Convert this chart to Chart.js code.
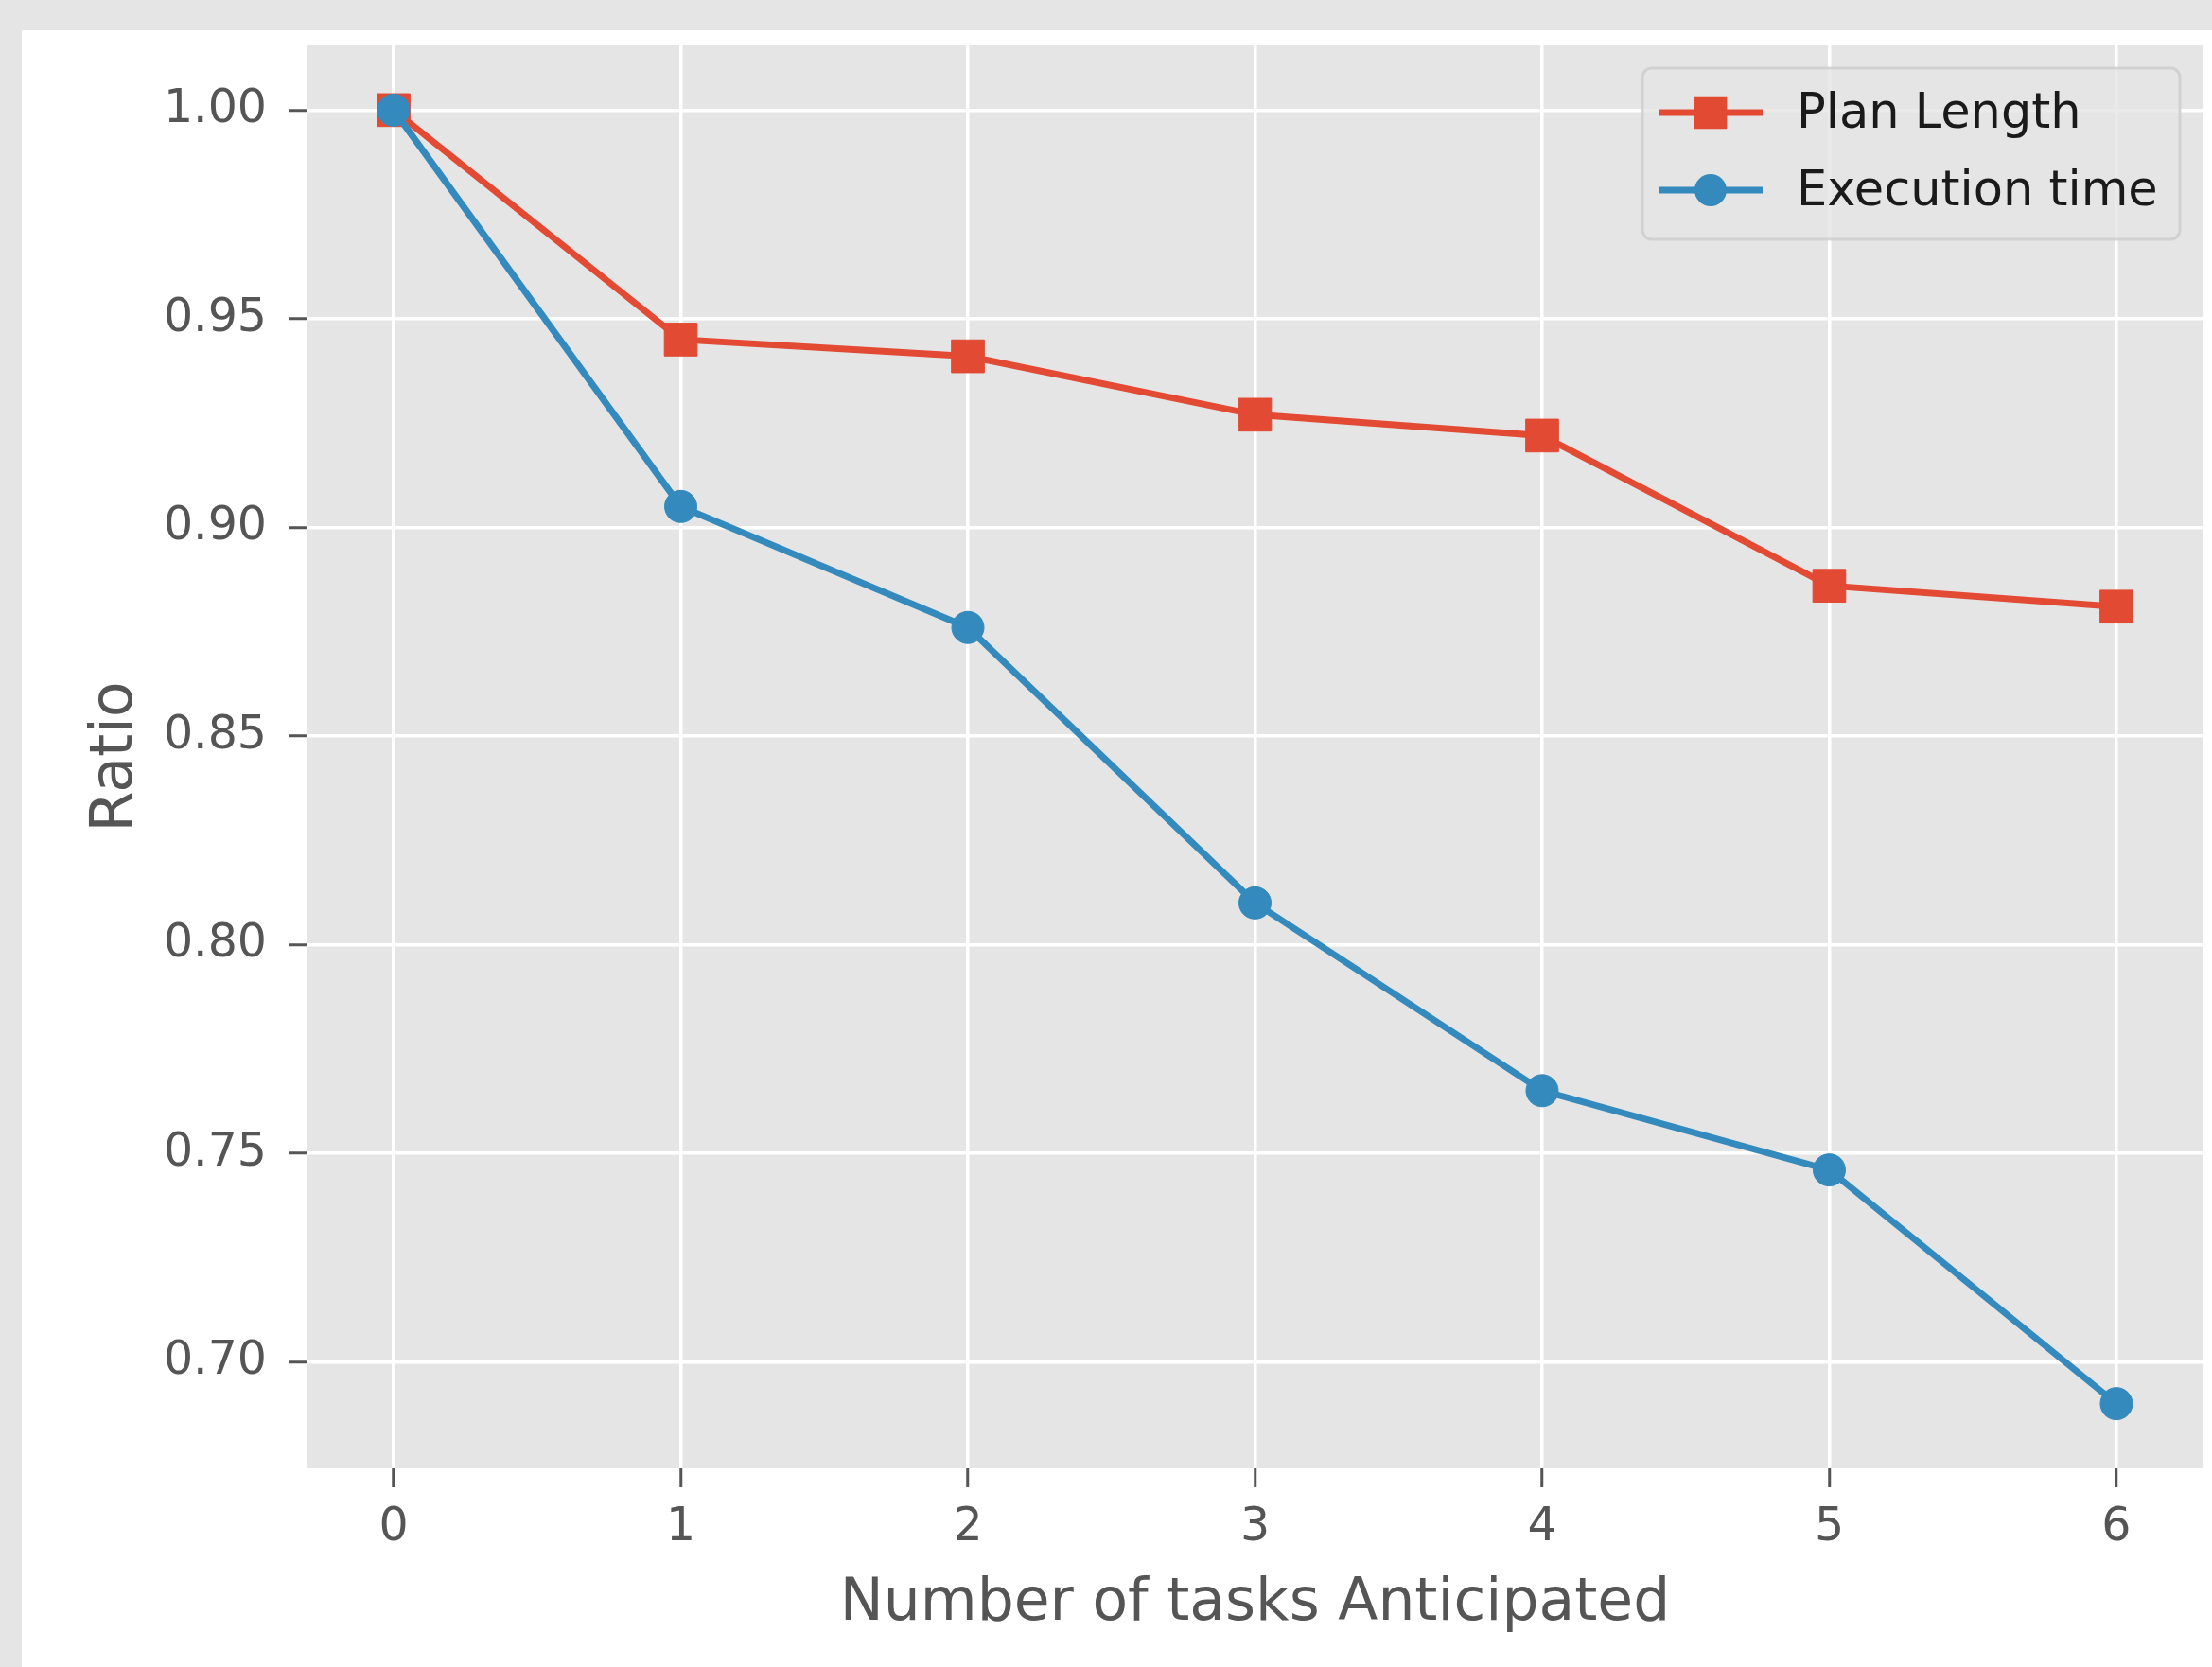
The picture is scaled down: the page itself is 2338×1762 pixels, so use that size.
<!DOCTYPE html>
<html>
<head>
<meta charset="utf-8">
<title>Plan length and execution time ratio</title>
<script src="https://cdn.jsdelivr.net/npm/chart.js@4.4.1/dist/chart.umd.min.js"></script>
<style>
    html, body { margin: 0; padding: 0; background: #ffffff; }
    #chart { display: block; }
</style>
</head>
<body>
<canvas id="chart" width="2338" height="1762"></canvas>
<script>
// Values.
const taskCounts = [0, 1, 2, 3, 4, 5, 6];
const planLength = [1.000, 0.945, 0.941, 0.927, 0.922, 0.886, 0.881];
const executionTime = [1.000, 0.905, 0.876, 0.810, 0.765, 0.746, 0.690];

const xTicks = [0, 1, 2, 3, 4, 5, 6];
const yTicks = [0.70, 0.75, 0.80, 0.85, 0.90, 0.95, 1.00];

const RED = '#E24A33';
const BLUE = '#348ABD';
const FONT = "'DejaVu Sans', 'Liberation Sans', sans-serif";


function toPoints(values) {
    return taskCounts.map((x, i) => ({ x: x, y: values[i] }));
}


// Grey page, white figure and grey axes background, like the ggplot style.
const backgroundPlugin = {
    id: 'background',
    beforeDraw(chart) {
        const ctx = chart.ctx;
        const area = chart.chartArea;
        ctx.save();
        ctx.fillStyle = '#e5e5e5';
        ctx.fillRect(0, 0, chart.width, chart.height);
        ctx.fillStyle = '#ffffff';
        ctx.fillRect(23, 32, chart.width - 23, chart.height - 32);
        ctx.fillStyle = '#e5e5e5';
        ctx.fillRect(area.left, area.top, area.right - area.left, area.bottom - area.top);
        ctx.restore();
    }
};


// Legend with the marker sitting on the middle of the line, as matplotlib does.
const lineLegendPlugin = {
    id: 'lineLegend',
    afterDraw(chart) {
        const ctx = chart.ctx;
        const box = { x: 1736, y: 72, w: 568, h: 181 };
        const rows = [119, 201];

        ctx.save();
        ctx.beginPath();
        ctx.roundRect(box.x, box.y, box.w, box.h, 10);
        ctx.fillStyle = 'rgba(229, 229, 229, 0.8)';
        ctx.fill();
        ctx.lineWidth = 3;
        ctx.strokeStyle = 'rgba(204, 204, 204, 0.8)';
        ctx.stroke();

        chart.data.datasets.forEach((ds, i) => {
            const y = rows[i];
            ctx.beginPath();
            ctx.moveTo(1753, y);
            ctx.lineTo(1863, y);
            ctx.lineWidth = ds.borderWidth;
            ctx.strokeStyle = ds.borderColor;
            ctx.stroke();

            ctx.fillStyle = ds.pointBackgroundColor;
            ctx.beginPath();
            if (ds.pointStyle === 'rect') {
                const half = ds.pointRadius * Math.SQRT1_2;
                ctx.rect(1808 - half, y - half, 2 * half, 2 * half);
            } else {
                ctx.arc(1808, y, ds.pointRadius, 0, Math.PI * 2);
            }
            ctx.fill();

            ctx.fillStyle = '#1a1a1a';
            ctx.font = '51px ' + FONT;
            ctx.textAlign = 'left';
            ctx.textBaseline = 'middle';
            ctx.fillText(ds.label, 1899, y + 3);
        });
        ctx.restore();
    }
};


const config = {
    type: 'line',
    data: {
        datasets: [
            {
                label: 'Plan Length',
                data: toPoints(planLength),
                borderColor: RED,
                backgroundColor: RED,
                borderWidth: 7,
                pointStyle: 'rect',
                pointRadius: 24.5,
                pointBackgroundColor: RED,
                pointBorderColor: RED,
                pointBorderWidth: 1,
                tension: 0,
                order: 1
            },
            {
                label: 'Execution time',
                data: toPoints(executionTime),
                borderColor: BLUE,
                backgroundColor: BLUE,
                borderWidth: 7,
                pointStyle: 'circle',
                pointRadius: 17,
                pointBackgroundColor: BLUE,
                pointBorderColor: BLUE,
                pointBorderWidth: 1,
                tension: 0,
                order: 0
            }
        ]
    },
    options: {
        responsive: false,
        animation: false,
        devicePixelRatio: 1,
        layout: {
            // The plot box is placed by hand, so no room is added for the markers.
            autoPadding: false,
            padding: { top: 48, right: 10, left: 0, bottom: 0 }
        },
        plugins: {
            legend: { display: false },
            tooltip: { enabled: false }
        },
        scales: {
            x: {
                type: 'linear',
                min: -0.3,
                max: 6.3,
                afterBuildTicks: (scale) => {
                    scale.ticks = xTicks.map(v => ({ value: v }));
                },
                afterFit: (scale) => {
                    // Fixed size, and no extra room asked for the edge labels.
                    scale.height = 210;
                    scale.paddingLeft = 0;
                    scale.paddingRight = 0;
                },
                border: { display: false },
                grid: {
                    color: '#ffffff',
                    lineWidth: 3.5,
                    tickColor: '#555555',
                    tickWidth: 3,
                    tickLength: 20
                },
                ticks: {
                    color: '#555555',
                    padding: 14,
                    maxRotation: 0,
                    font: { family: FONT, size: 49 },
                    callback: (value) => String(value)
                },
                title: {
                    display: true,
                    text: 'Number of tasks Anticipated',
                    color: '#555555',
                    font: { family: FONT, size: 61.5 },
                    padding: { top: 0, bottom: 29 }
                }
            },
            y: {
                type: 'linear',
                min: 0.6745,
                max: 1.0155,
                afterBuildTicks: (scale) => {
                    scale.ticks = yTicks.map(v => ({ value: v }));
                },
                afterFit: (scale) => {
                    scale.width = 325;
                    scale.paddingTop = 0;
                    scale.paddingBottom = 0;
                },
                border: { display: false },
                grid: {
                    color: '#ffffff',
                    lineWidth: 3.5,
                    tickColor: '#555555',
                    tickWidth: 3,
                    tickLength: 20
                },
                ticks: {
                    color: '#555555',
                    padding: 23,
                    font: { family: FONT, size: 49 },
                    callback: (value) => value.toFixed(2)
                },
                title: {
                    display: true,
                    text: 'Ratio',
                    color: '#555555',
                    font: { family: FONT, size: 62 },
                    padding: { top: 86, bottom: 0 }
                }
            }
        }
    },
    plugins: [backgroundPlugin, lineLegendPlugin]
};

new Chart(document.getElementById('chart'), config);
</script>
</body>
</html>
